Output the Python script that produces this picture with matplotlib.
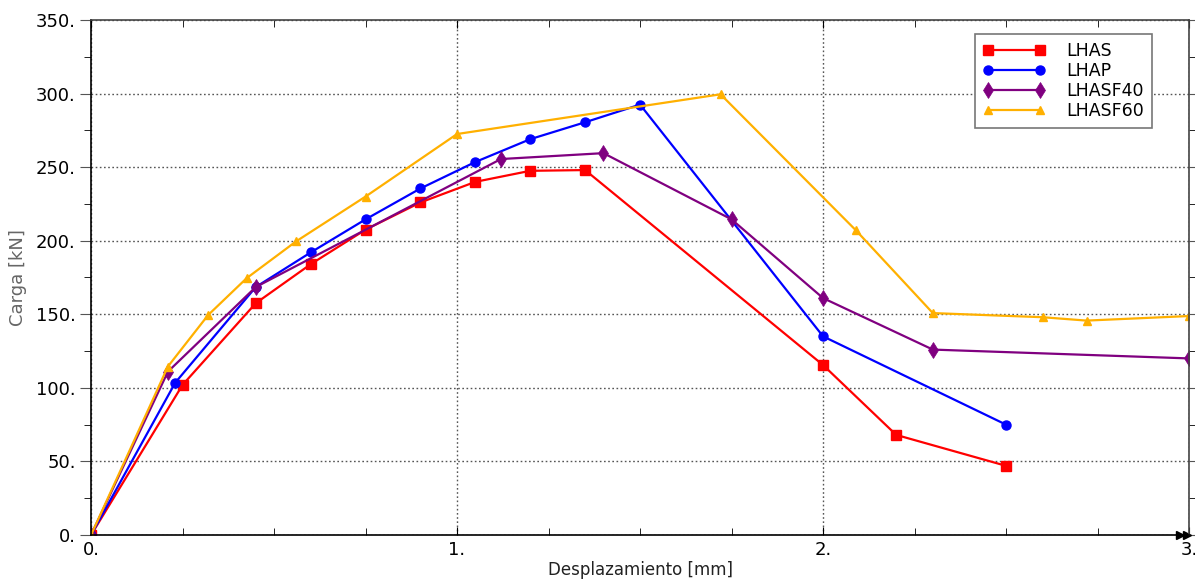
import matplotlib
matplotlib.use("Agg")
import matplotlib.pyplot as plt
from matplotlib.ticker import MultipleLocator, FuncFormatter

# datos
lhas_x = [0, 0.25, 0.45, 0.60, 0.75, 0.90, 1.05, 1.20, 1.35, 2.00, 2.20, 2.50]
lhas_y = [0, 102, 157.5, 184, 207.5, 226, 240, 247.5, 248, 115.5, 68, 47]

lhap_x = [0, 0.23, 0.45, 0.60, 0.75, 0.90, 1.05, 1.20, 1.35, 1.50, 2.00, 2.50]
lhap_y = [0, 103.5, 168.5, 192, 214.5, 235.5, 253.5, 269, 280.5, 292.5, 135, 75]

lhasf40_x = [0, 0.21, 0.45, 1.12, 1.40, 1.75, 2.00, 2.30, 3.00]
lhasf40_y = [0, 111, 168.5, 255.5, 259.5, 214.5, 161, 126, 120]

lhasf60_x = [0, 0.21, 0.32, 0.425, 0.56, 0.75, 1.00, 1.72, 2.09, 2.30, 2.60, 2.72, 3.00]
lhasf60_y = [0, 114.5, 149.5, 174.5, 199.5, 230, 272.5, 299.5, 207, 150.8, 148, 145.7, 148.8]

fig = plt.figure(figsize=(11.95, 5.81), dpi=100)
ax = fig.add_axes([0.0762, 0.0792, 0.9188, 0.8864])

lw = 1.6
ax.plot(lhas_x, lhas_y, color="#ff0000", lw=lw, marker="s", ms=7, label="LHAS")
ax.plot(lhap_x, lhap_y, color="#0000ff", lw=lw, marker="o", ms=6.5, label="LHAP")
ax.plot(lhasf40_x, lhasf40_y, color="#800080", lw=lw, marker="d", ms=8.5, mew=0.5, label="LHASF40")
ax.plot(lhasf60_x, lhasf60_y, color="#ffb000", lw=lw, marker="^", ms=6, label="LHASF60")

ax.set_xlim(0, 3)
ax.set_ylim(0, 350)

ax.xaxis.set_major_locator(MultipleLocator(1))
ax.xaxis.set_minor_locator(MultipleLocator(0.25))
ax.yaxis.set_major_locator(MultipleLocator(50))
ax.yaxis.set_minor_locator(MultipleLocator(25))
fmt = FuncFormatter(lambda v, p: "%d." % round(v))
ax.xaxis.set_major_formatter(fmt)
ax.yaxis.set_major_formatter(fmt)

ax.tick_params(axis="x", which="both", direction="in", top=True, labelsize=13, pad=4)
ax.tick_params(axis="x", which="major", length=6)
ax.tick_params(axis="x", which="minor", length=5)
ax.tick_params(axis="y", which="both", direction="out", right=True, labelsize=13, pad=3)
ax.tick_params(axis="y", which="major", length=8, color="#555555")
ax.tick_params(axis="y", which="minor", length=5)

ax.grid(True, which="major", linestyle=(0, (1.2, 1.8)), color="#555555", linewidth=1)
for s in ax.spines.values():
    s.set_linewidth(1.2)
ax.spines["top"].set_color("#444444")
ax.spines["right"].set_color("#444444")

# flecha del eje x
ax.plot([0.992, 0.998], [0, 0], transform=ax.transAxes, marker=">", ms=6,
        color="black", lw=0, clip_on=False)

ax.set_xlabel("Desplazamiento [mm]", fontsize=12, color="#222222", labelpad=2)
ax.set_ylabel("Carga [kN]", fontsize=13, color="#666666", labelpad=6)

leg = ax.legend(loc="upper right", bbox_to_anchor=(0.966, 0.973), borderaxespad=0,
                fontsize=12.5, numpoints=2, fancybox=False, framealpha=1,
                edgecolor="#777777", handlelength=3.6, borderpad=0.45,
                labelspacing=0.12, handletextpad=1.2)
leg.get_frame().set_linewidth(1.2)

fig.savefig("out.png", dpi=100)
